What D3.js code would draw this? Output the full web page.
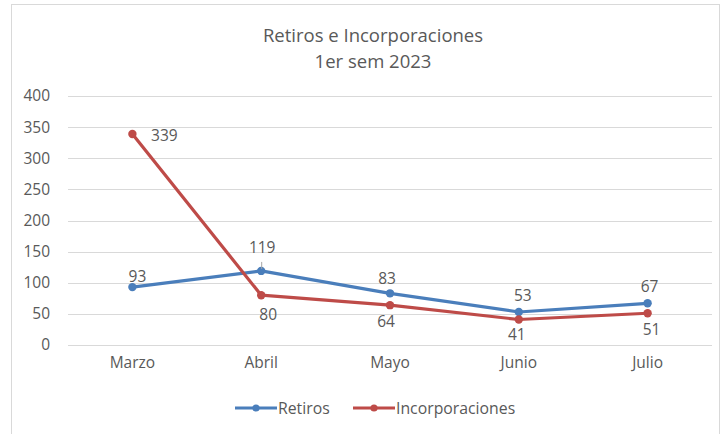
<!DOCTYPE html>
<html>
<head>
<meta charset="utf-8">
<script src="https://cdn.jsdelivr.net/npm/d3@7"></script>
<style>
  body { margin: 0; background: #fff; }
  text { font-family: "Open Sans", Lato, sans-serif; fill: #595959; }
</style>
</head>
<body>
<svg id="chart" width="723" height="434"></svg>
<script>
var meses = ['Marzo', 'Abril', 'Mayo', 'Junio', 'Julio'];
var retiros = [93, 119, 83, 53, 67];
var incorporaciones = [339, 80, 64, 41, 51];
var yTicks = [0, 50, 100, 150, 200, 250, 300, 350, 400];

// label nudges (px) as placed in the original
var retirosLabelDx = [5, 1, -3, 4, 2];
var retirosLabelDy = [-5, -18, -9, -11, -11];
var incorpLabelDx = [32, 7, -4, -2, 4];
var incorpLabelDy = [7, 25, 22, 21, 22];

var svg = d3.select('#chart');

// chart frame
svg.append('rect')
  .attr('x', 11.5).attr('y', 4.5)
  .attr('width', 708).attr('height', 440)
  .attr('fill', 'none').attr('stroke', '#d9d9d9');

var x = d3.scaleBand().domain(meses).range([68, 712]);
var y = d3.scaleLinear().domain([0, 400]).range([345, 96]);

svg.append('text').attr('x', 373).attr('y', 42)
  .attr('text-anchor', 'middle').style('font-size', '18.5px')
  .text('Retiros e Incorporaciones');
svg.append('text').attr('x', 373).attr('y', 68)
  .attr('text-anchor', 'middle').style('font-size', '18.5px')
  .text('1er sem 2023');

// grid
svg.append('g').selectAll('line').data(yTicks).enter().append('line')
  .attr('x1', 68).attr('x2', 712)
  .attr('y1', function(d) { return Math.round(y(d)) + 0.5; })
  .attr('y2', function(d) { return Math.round(y(d)) + 0.5; })
  .attr('stroke', '#d9d9d9');

var yAxis = svg.append('g').attr('transform', 'translate(50,0)')
  .call(d3.axisLeft(y).tickValues(yTicks).tickSize(0).tickPadding(0));
yAxis.select('.domain').remove();
yAxis.selectAll('text').style('font-size', '15.5px').style('font-family', null).attr('fill', null);

var xAxis = svg.append('g').attr('transform', 'translate(0,357)')
  .call(d3.axisBottom(x).tickSize(0).tickPadding(0));
xAxis.select('.domain').remove();
xAxis.selectAll('text').style('font-size', '15.5px').style('font-family', null).attr('fill', null)
  .attr('dy', '0.71em');

var cx = function(d, i) { return x(meses[i]) + x.bandwidth() / 2; };

var series = [
  { name: 'Retiros', values: retiros, color: '#4a7ebb' },
  { name: 'Incorporaciones', values: incorporaciones, color: '#be4b48' }
];

var line = d3.line().x(cx).y(function(d) { return y(d); });

series.forEach(function(s) {
  svg.append('path').datum(s.values)
    .attr('d', line).attr('fill', 'none')
    .attr('stroke', s.color).attr('stroke-width', 3.2)
    .attr('stroke-linejoin', 'round');
  svg.append('g').selectAll('circle').data(s.values).enter().append('circle')
    .attr('cx', cx).attr('cy', function(d) { return y(d); })
    .attr('r', 4.2).attr('fill', s.color);
});

// data labels
var labelStyle = function(sel) {
  sel.style('font-size', '15.5px').attr('text-anchor', 'middle').attr('fill', '#404040');
};
svg.append('g').selectAll('text').data(retiros).enter().append('text')
  .attr('x', function(d, i) { return cx(d, i) + retirosLabelDx[i]; })
  .attr('y', function(d, i) { return y(d) + retirosLabelDy[i]; })
  .text(function(d) { return d; })
  .call(labelStyle);
// leader line for 119
svg.append('line')
  .attr('x1', cx(0, 1) + 0.5).attr('x2', cx(0, 1) + 0.5)
  .attr('y1', y(retiros[1]) - 9).attr('y2', y(retiros[1]) - 2)
  .attr('stroke', '#a6a6a6');

svg.append('g').selectAll('text').data(incorporaciones).enter().append('text')
  .attr('x', function(d, i) { return cx(d, i) + incorpLabelDx[i]; })
  .attr('y', function(d, i) { return y(d) + incorpLabelDy[i]; })
  .text(function(d) { return d; })
  .call(labelStyle);

// legend
var legend = svg.append('g');
var legendItems = [
  { s: series[0], x: 235 },
  { s: series[1], x: 353 }
];
legendItems.forEach(function(it) {
  legend.append('line').attr('x1', it.x).attr('x2', it.x + 42)
    .attr('y1', 408).attr('y2', 408)
    .attr('stroke', it.s.color).attr('stroke-width', 3.2);
  legend.append('circle').attr('cx', it.x + 21).attr('cy', 408).attr('r', 3.6)
    .attr('fill', it.s.color);
  legend.append('text').attr('x', it.x + 43).attr('y', 414)
    .style('font-size', '15.8px').text(it.s.name);
});
</script>
</body>
</html>
